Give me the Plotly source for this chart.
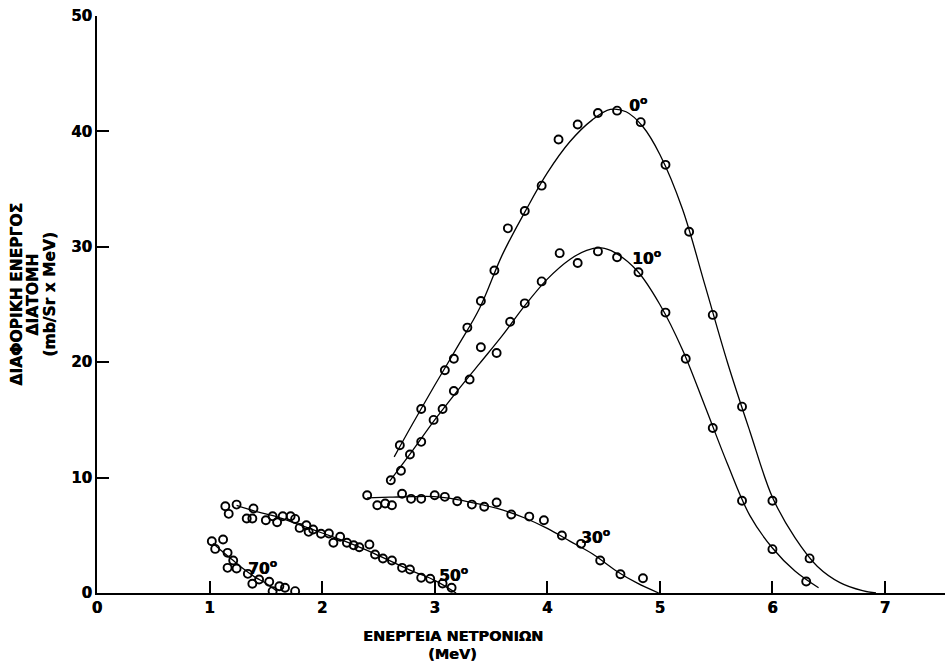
import plotly.graph_objects as go

# ---- measured points (energy MeV, cross section mb/Sr x MeV) ----
x0 = [2.69, 2.88, 3.09, 3.17, 3.29, 3.41, 3.53, 3.65, 3.80, 3.95, 4.10, 4.27, 4.45, 4.62, 4.83, 5.05, 5.26, 5.47, 5.73, 6.00, 6.33]
y0 = [12.8, 15.95, 19.3, 20.3, 23.0, 25.3, 27.95, 31.6, 33.1, 35.3, 39.3, 40.6, 41.6, 41.8, 40.8, 37.1, 31.3, 24.1, 16.15, 8.0, 3.0]

x10 = [2.61, 2.70, 2.78, 2.88, 2.99, 3.07, 3.17, 3.31, 3.41, 3.55, 3.67, 3.80, 3.95, 4.11, 4.27, 4.45, 4.62, 4.81, 5.05, 5.23, 5.47, 5.73, 6.00, 6.30]
y10 = [9.77, 10.6, 12.0, 13.1, 15.0, 15.95, 17.5, 18.5, 21.3, 20.8, 23.5, 25.1, 27.0, 29.45, 28.6, 29.6, 29.1, 27.8, 24.3, 20.3, 14.3, 8.0, 3.8, 1.0]

x30 = [2.40, 2.49, 2.56, 2.62, 2.71, 2.79, 2.88, 3.00, 3.09, 3.20, 3.33, 3.44, 3.55, 3.68, 3.84, 3.97, 4.13, 4.30, 4.47, 4.65, 4.85]
y30 = [8.47, 7.6, 7.75, 7.6, 8.6, 8.16, 8.16, 8.47, 8.33, 7.95, 7.66, 7.48, 7.84, 6.8, 6.62, 6.3, 4.98, 4.26, 2.81, 1.63, 1.28]

x50 = [1.14, 1.17, 1.24, 1.33, 1.38, 1.39, 1.50, 1.56, 1.60, 1.65, 1.72, 1.76, 1.80, 1.86, 1.88, 1.92, 1.99, 2.06, 2.10, 2.16, 2.22, 2.28, 2.33, 2.42, 2.47, 2.54, 2.62, 2.71, 2.78, 2.88, 2.96, 3.07, 3.15]
y50 = [7.52, 6.86, 7.66, 6.45, 6.45, 7.32, 6.3, 6.65, 6.13, 6.65, 6.65, 6.42, 5.64, 5.87, 5.3, 5.5, 5.13, 5.15, 4.35, 4.87, 4.35, 4.14, 3.97, 4.2, 3.33, 2.99, 2.81, 2.18, 2.03, 1.32, 1.23, 0.82, 0.45]

x70 = [1.02, 1.05, 1.12, 1.16, 1.21, 1.16, 1.24, 1.34, 1.38, 1.44, 1.53, 1.56, 1.62, 1.67, 1.76]
y70 = [4.49, 3.82, 4.63, 3.48, 2.81, 2.18, 2.12, 1.66, 0.8, 1.17, 0.97, 0.16, 0.59, 0.45, 0.16]

# ---- hand-drawn fitted curves ----
cx0 = [2.64, 2.8, 3.0, 3.2, 3.4, 3.6, 3.8, 4.0, 4.2, 4.4, 4.56, 4.7, 4.85, 5.0, 5.2, 5.4, 5.6, 5.8, 6.0, 6.2, 6.4, 6.6, 6.8, 6.92]
cy0 = [11.8, 14.6, 18.0, 21.3, 24.7, 29.3, 33.0, 36.4, 39.1, 41.0, 41.9, 41.7, 40.4, 38.0, 33.3, 26.7, 20.0, 14.0, 8.3, 4.8, 2.3, 0.9, 0.2, 0.0]

cx10 = [2.60, 2.8, 3.0, 3.2, 3.4, 3.6, 3.8, 4.0, 4.2, 4.35, 4.48, 4.6, 4.8, 5.0, 5.2, 5.4, 5.6, 5.8, 6.0, 6.2, 6.41]
cy10 = [9.7, 12.3, 15.0, 17.5, 19.9, 22.3, 24.9, 27.2, 28.9, 29.7, 29.9, 29.5, 27.9, 25.0, 21.1, 16.2, 11.2, 6.7, 3.9, 1.9, 0.45]

cx30 = [2.40, 2.6, 2.8, 3.0, 3.2, 3.4, 3.6, 3.8, 4.0, 4.2, 4.4, 4.6, 4.8, 4.99]
cy30 = [8.25, 8.3, 8.35, 8.35, 8.1, 7.7, 7.2, 6.5, 5.6, 4.5, 3.4, 2.0, 0.85, 0.0]

cx50 = [1.24, 1.4, 1.6, 1.8, 2.0, 2.2, 2.4, 2.6, 2.8, 3.0, 3.19]
cy50 = [7.6, 7.1, 6.6, 5.9, 5.2, 4.5, 3.7, 2.8, 1.9, 1.1, 0.0]

cx70 = [1.03, 1.1, 1.2, 1.3, 1.4, 1.5, 1.6]
cy70 = [4.3, 3.7, 2.9, 2.1, 1.4, 0.85, 0.15]

angle_labels = ["0<sup>o</sup>", "10<sup>o</sup>", "30<sup>o</sup>", "50<sup>o</sup>", "70<sup>o</sup>"]
label_x = [4.81, 4.88, 4.43, 3.17, 1.47]
label_y = [42.3, 29.1, 4.9, 1.6, 2.2]

x_title_lines = ["ΕΝΕΡΓΕΙΑ ΝΕΤΡΟΝΙΩΝ", "(MeV)"]
y_title_lines = ["ΔΙΑΦΟΡΙΚΗ ΕΝΕΡΓΟΣ", "ΔΙΑΤΟΜΗ", "(mb/Sr x MeV)"]

x_ticks = [0, 1, 2, 3, 4, 5, 6, 7]
y_ticks = [0, 10, 20, 30, 40, 50]

FONT = "DejaVu Sans"
SHADOW = "0.45px 0px 0px black"
fig = go.Figure()

for cx, cy in [(cx0, cy0), (cx10, cy10), (cx30, cy30), (cx50, cy50), (cx70, cy70)]:
    fig.add_trace(go.Scatter(x=cx, y=cy, mode="lines",
                             line=dict(color="black", width=1.3, shape="spline", smoothing=1.0),
                             hoverinfo="skip", showlegend=False))

for px, py in [(x0, y0), (x10, y10), (x30, y30), (x50, y50), (x70, y70)]:
    fig.add_trace(go.Scatter(x=px, y=py, mode="markers",
                             marker=dict(symbol="circle-open", size=8, color="black",
                                         line=dict(color="black", width=1.9)),
                             showlegend=False))

for t, lx, ly in zip(angle_labels, label_x, label_y):
    fig.add_annotation(x=lx, y=ly, text=t, showarrow=False,
                       font=dict(family=FONT, size=15.5, color="black", weight="bold", shadow=SHADOW))

# x title: two lines, centred at x=453 px, y=636 and 654 px
for line, yp in zip(x_title_lines, [-0.0745, -0.1057]):
    fig.add_annotation(xref="paper", yref="paper", x=0.4198, y=yp, text=line, showarrow=False,
                       xanchor="center", yanchor="middle",
                       font=dict(family=FONT, size=14.5, color="black", weight="bold", shadow=SHADOW))

# y title: three rotated lines at x = 17, 33, 50 px
for line, xp in zip(y_title_lines, [-0.0943, -0.0755, -0.0554]):
    fig.add_annotation(xref="paper", yref="paper", x=xp, y=0.517, text=line, showarrow=False,
                       textangle=-90, xanchor="center", yanchor="middle",
                       font=dict(family=FONT, size=15.5, color="black", weight="bold", shadow=SHADOW))

fig.update_xaxes(range=[0, 7.533], tickvals=x_ticks, ticktext=[str(v) for v in x_ticks],
                 ticks="inside", ticklen=12, tickwidth=2, tickcolor="black",
                 showline=True, linewidth=2, linecolor="black", showgrid=False, zeroline=False,
                 tickfont=dict(family=FONT, size=15, color="black", weight="bold", shadow=SHADOW))
fig.update_yaxes(range=[0, 50], tickvals=y_ticks, ticktext=[str(v) for v in y_ticks],
                 ticks="inside", ticklen=12, tickwidth=2, tickcolor="black",
                 showline=True, linewidth=2, linecolor="black", showgrid=False, zeroline=False,
                 tickfont=dict(family=FONT, size=15, color="black", weight="bold", shadow=SHADOW))

fig.update_layout(width=945, height=668, plot_bgcolor="white", paper_bgcolor="white",
                  margin=dict(l=97, r=0, t=16, b=75), showlegend=False)

fig.write_html("out.html")
